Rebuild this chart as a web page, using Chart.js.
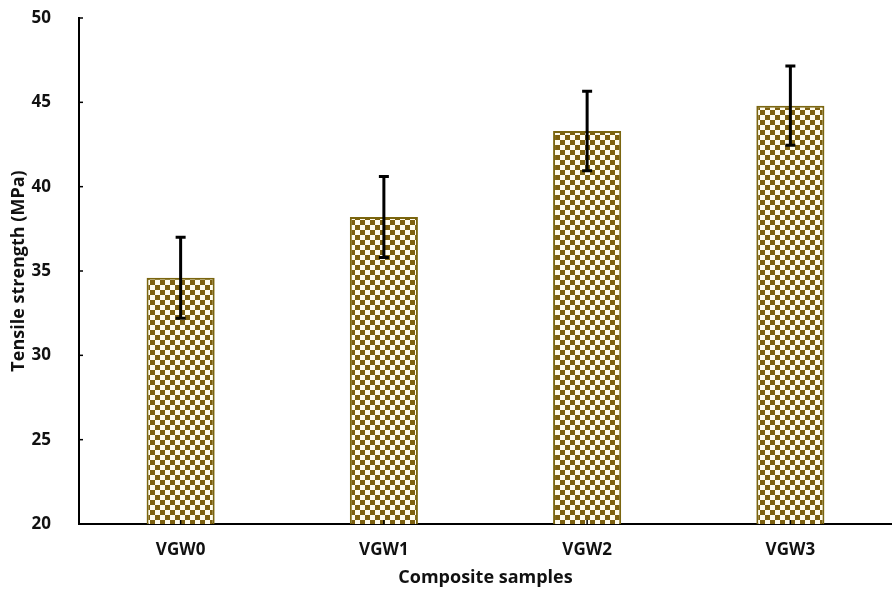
<!DOCTYPE html>
<html lang="en">
<head>
    <meta charset="UTF-8">
    <title>Tensile strength</title>
    <script src="https://cdn.jsdelivr.net/npm/chart.js"></script>
    <style>
        html, body { margin: 0; padding: 0; background: #fff; }
        #wrap { width: 892px; height: 590px; }
    </style>
</head>
<body>
<div id="wrap"><canvas id="chart"></canvas></div>
<script>
    // data
    const samples = ['VGW0', 'VGW1', 'VGW2', 'VGW3'];
    const strength = [34.6, 38.2, 43.3, 44.8];
    const strengthErr = [2.4, 2.4, 2.35, 2.35];
    const yTicks = [20, 25, 30, 35, 40, 45, 50];

    // checkerboard fill like the original bars
    function makeChecker() {
        const c = document.createElement('canvas');
        const s = 5;
        c.width = s * 2; c.height = s * 2;
        const g = c.getContext('2d');
        g.fillStyle = '#fffcee';
        g.fillRect(0, 0, s * 2, s * 2);
        g.fillStyle = '#7d600f';
        g.fillRect(0, 0, s, s);
        g.fillRect(s, s, s, s);
        return g.createPattern(c, 'repeat');
    }

    const font = "'Open Sans', sans-serif";

    // error bars + little inside tick marks
    const extras = {
        id: 'extras',
        afterDatasetsDraw(chart) {
            const ctx = chart.ctx;
            const y = chart.scales.y;
            const x = chart.scales.x;
            const meta = chart.getDatasetMeta(0);
            ctx.save();
            ctx.strokeStyle = '#000';
            ctx.lineWidth = 3;
            meta.data.forEach((bar, i) => {
                const top = y.getPixelForValue(strength[i] + strengthErr[i]);
                const bot = y.getPixelForValue(strength[i] - strengthErr[i]);
                ctx.beginPath();
                ctx.moveTo(bar.x, top);
                ctx.lineTo(bar.x, bot);
                ctx.moveTo(bar.x - 5, top);
                ctx.lineTo(bar.x + 5, top);
                ctx.moveTo(bar.x - 5, bot);
                ctx.lineTo(bar.x + 5, bot);
                ctx.stroke();
            });
            ctx.lineWidth = 1.5;
            yTicks.forEach(v => {
                const py = y.getPixelForValue(v);
                ctx.beginPath();
                ctx.moveTo(chart.chartArea.left, py);
                ctx.lineTo(chart.chartArea.left + 4, py);
                ctx.stroke();
            });
            samples.forEach((s, i) => {
                const px = x.getPixelForValue(i);
                ctx.beginPath();
                ctx.moveTo(px, chart.chartArea.bottom);
                ctx.lineTo(px, chart.chartArea.bottom - 4);
                ctx.stroke();
            });
            ctx.restore();
        }
    };

    new Chart(document.getElementById('chart'), {
        type: 'bar',
        data: {
            labels: samples,
            datasets: [{
                data: strength,
                backgroundColor: makeChecker(),
                borderColor: '#7a650f',
                borderWidth: 2,
                barPercentage: 0.335,
                categoryPercentage: 1
            }]
        },
        options: {
            responsive: true,
            maintainAspectRatio: false,
            animation: false,
            layout: { padding: { top: 18, right: 0, left: 0, bottom: 0 } },
            plugins: {
                legend: { display: false },
                tooltip: { enabled: false }
            },
            scales: {
                x: {
                    grid: { display: false },
                    border: { color: '#000', width: 2 },
                    ticks: {
                        color: '#111',
                        font: { family: font, size: 17, weight: 'bold' },
                        padding: 8
                    },
                    title: {
                        display: true,
                        text: 'Composite samples',
                        color: '#111',
                        font: { family: font, size: 18, weight: 'bold' },
                        padding: { top: 9, bottom: 1 }
                    },
                    afterFit: s => { s.height = 66; s.paddingLeft = 0; s.paddingRight = 0; }
                },
                y: {
                    min: 20,
                    max: 50,
                    afterBuildTicks: s => { s.ticks = yTicks.map(v => ({ value: v })); },
                    grid: { display: false },
                    border: { color: '#000', width: 2 },
                    ticks: {
                        color: '#111',
                        font: { family: font, size: 17, weight: 'bold' },
                        padding: 20
                    },
                    title: {
                        display: true,
                        text: 'Tensile strength (MPa)',
                        color: '#111',
                        font: { family: font, size: 18, weight: 'bold' },
                        padding: { top: 8, bottom: 2 }
                    },
                    afterFit: s => { s.width = 79; s.paddingTop = 0; s.paddingBottom = 0; }
                }
            }
        },
        plugins: [extras]
    });
</script>
</body>
</html>
